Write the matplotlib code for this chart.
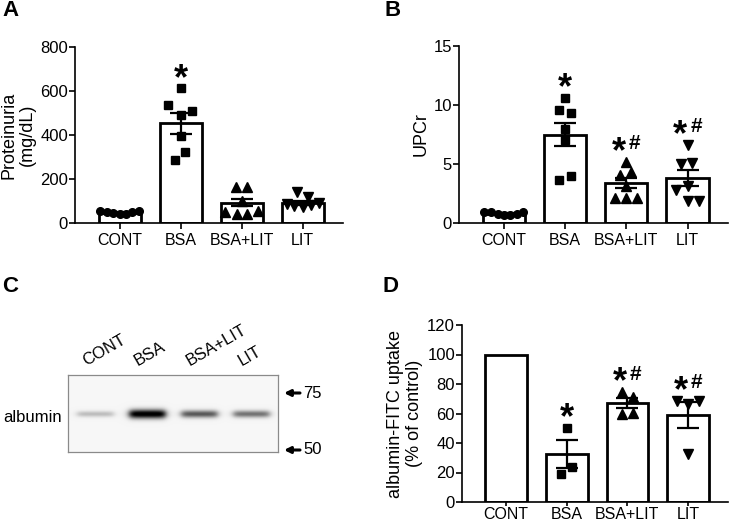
import numpy as np
import matplotlib.pyplot as plt

plt.rcParams['font.family'] = ['Liberation Sans', 'DejaVu Sans']

groups = ['CONT', 'BSA', 'BSA+LIT', 'LIT']

# A: proteinuria (mg/dL)
prot_points = [
    [56, 50, 44, 40, 42, 48, 55],
    [612, 538, 507, 492, 394, 324, 287],
    [162, 162, 100, 50, 43, 43, 55],
    [142, 119, 88, 78, 72, 80, 90],
]
prot_mean = [47, 453, 93, 93]
prot_sem = [3, 48, 16, 9]
prot_marks = ['', '*', '', '']

# B: urine protein / creatinine ratio
upcr_points = [
    [0.95, 0.9, 0.8, 0.72, 0.72, 0.8, 0.92],
    [10.6, 9.6, 9.35, 8.0, 7.06, 3.67, 3.98],
    [5.2, 4.1, 4.35, 3.1, 2.1, 2.1, 2.1],
    [6.64, 4.97, 5.08, 2.77, 3.17, 1.84, 1.84],
]
upcr_mean = [0.8, 7.5, 3.4, 3.8]
upcr_sem = [0.05, 1.0, 0.45, 0.65]
upcr_marks = ['', '*', '*#', '*#']

# D: albumin-FITC uptake (% of control)
fitc_points = [
    [],
    [50.3, 19.2, 23.6],
    [74.6, 71.5, 59.5, 60.5],
    [68.2, 66.5, 68.7, 32.4],
]
fitc_mean = [100, 32.5, 67, 58.8]
fitc_sem = [0, 9.5, 3.5, 8.7]
fitc_marks = ['', '*', '*#', '*#']

# C: western blot band strength (relative)
band_intensity = [0.22, 1.0, 0.6, 0.5]
mw_markers = ['75', '50']

# horizontal spread of dots inside each bar (layout only)
jitter = {
    'A': [[-0.32, -0.21, -0.1, 0, 0.1, 0.21, 0.32],
          [0, -0.2, 0.18, 0, 0, 0.08, -0.09],
          [-0.1, 0.09, 0, -0.28, -0.08, 0.09, 0.27],
          [-0.09, 0.09, -0.26, -0.15, 0, 0.13, 0.26]],
    'B': [[-0.32, -0.21, -0.1, 0, 0.1, 0.21, 0.32],
          [0, -0.09, 0.09, 0, 0, -0.09, 0.09],
          [0, -0.11, 0.07, 0, -0.18, 0, 0.18],
          [0, -0.1, 0.08, -0.19, 0, 0, 0.18]],
    'D': [[],
          [0, -0.09, 0.09],
          [-0.09, 0.09, -0.09, 0.09],
          [-0.18, 0, 0.18, 0]],
}
markers = ['o', 's', '^', 'v']
msizes = [5.5, 5.5, 6.5, 6.5]

W, H = 732, 525
fig = plt.figure(figsize=(W / 100, H / 100), dpi=100)


def px_axes(left, top, right, bottom):
    return fig.add_axes([left / W, 1 - bottom / H, (right - left) / W, (bottom - top) / H])


def fig_xy(x, y):
    return x / W, 1 - y / H


def bar_panel(ax, points, mean, sem, marks, jit, ymax, yticks, ylabel, xpad=3.5):
    x = np.arange(len(groups))
    ax.bar(x, mean, width=0.69, color='white', edgecolor='black', linewidth=2, zorder=1)
    for i, vals in enumerate(points):
        if vals:
            ax.plot(x[i] + np.array(jit[i]), vals, linestyle='none', marker=markers[i],
                    ms=msizes[i], color='black', zorder=3)
        if sem[i] > 0:
            ax.errorbar(x[i], mean[i], yerr=sem[i], color='black', lw=1.6,
                        capsize=8, capthick=1.6, zorder=4)
        if marks[i]:
            top = max(vals) if vals else mean[i] + sem[i]
            yy = top + 0.1 * ymax
            if marks[i] == '*':
                ax.text(x[i], yy - 0.05 * ymax, '*', fontsize=26, fontweight='bold',
                        ha='center', va='center', zorder=5)
            else:
                ax.text(x[i] - 0.12, yy - 0.05 * ymax, '*', fontsize=26, fontweight='bold',
                        ha='center', va='center', zorder=5)
                ax.text(x[i] + 0.14, yy, '#', fontsize=15, fontweight='bold',
                        ha='center', va='center', zorder=5)
    ax.set_xlim(-0.73, 3.66)
    ax.set_ylim(0, ymax)
    ax.set_yticks(yticks)
    ax.set_xticks(x)
    ax.set_xticklabels(groups)
    ax.spines['top'].set_visible(False)
    ax.spines['right'].set_visible(False)
    ax.spines['left'].set_linewidth(1.2)
    ax.spines['bottom'].set_linewidth(1.2)
    ax.tick_params(axis='y', width=1.2, length=4, labelsize=12, pad=1)
    ax.tick_params(axis='x', width=1.2, length=4, labelsize=11.5, pad=xpad)
    ax.set_ylabel(ylabel, fontsize=13, linespacing=1.15, labelpad=3)


axA = px_axes(75, 47, 343, 223)
bar_panel(axA, prot_points, prot_mean, prot_sem, prot_marks, jitter['A'], 800,
          [0, 200, 400, 600, 800], 'Proteinuria\n(mg/dL)')

axB = px_axes(459, 46, 728, 223)
bar_panel(axB, upcr_points, upcr_mean, upcr_sem, upcr_marks, jitter['B'], 15,
          [0, 5, 10, 15], 'UPCr', )

axD = px_axes(462, 325, 728, 502)
bar_panel(axD, fitc_points, fitc_mean, fitc_sem, fitc_marks, jitter['D'], 120,
          [0, 20, 40, 60, 80, 100, 120], 'albumin-FITC uptake\n(% of control)', xpad=0.5)
axD.tick_params(axis='x', length=3)

# C: western blot
axC = px_axes(68, 375, 278, 452)
ny, nx = 77, 210
yy, xx = np.mgrid[0:ny, 0:nx]
img = np.zeros((ny, nx))
lane_c = [27 + 52 * i for i in range(len(groups))]
for c, amp in zip(lane_c, band_intensity):
    px = 1 / (1 + np.exp(-(xx - (c - 18)) / 2.0)) / (1 + np.exp((xx - (c + 18)) / 2.0))
    sig = 2.4 + 2.0 * amp
    py = np.exp(-((yy - 39) / sig) ** 2)
    img += amp * px * py
img = np.clip(0.965 - 1.05 * img, 0, 1)
axC.imshow(img, cmap='gray', vmin=0, vmax=1, extent=(0, nx, ny, 0),
           aspect='auto', interpolation='bilinear')
axC.set_xlim(0, nx)
axC.set_ylim(ny, 0)
axC.set_xticks([])
axC.set_yticks([])
for s in axC.spines.values():
    s.set_color('#8a8a8a')
    s.set_linewidth(0.9)
for c, name in zip(lane_c, groups):
    axC.text(c - 9, -9, name, rotation=30, rotation_mode='anchor', ha='left',
             va='baseline', fontsize=12, clip_on=False)
fig.text(*fig_xy(62, 418), 'albumin', ha='right', va='center', fontsize=12)
for ypx, lab in zip([393, 450], mw_markers):
    fig.add_artist(plt.Annotation('', xy=fig_xy(284, ypx), xytext=fig_xy(300, ypx),
                                  xycoords='figure fraction', textcoords='figure fraction',
                                  arrowprops=dict(arrowstyle='-|>', lw=2.2, color='black',
                                                  mutation_scale=9, shrinkA=0, shrinkB=0)))
    fig.text(*fig_xy(303, ypx), lab, ha='left', va='center', fontsize=12)

for lab, (xp, yp) in zip('ABCD', [(2, 11), (384, 11), (2, 286), (383, 286)]):
    fig.text(*fig_xy(xp, yp), lab, fontsize=16, fontweight='bold', ha='left', va='center')

fig.savefig('out.png', dpi=100)
